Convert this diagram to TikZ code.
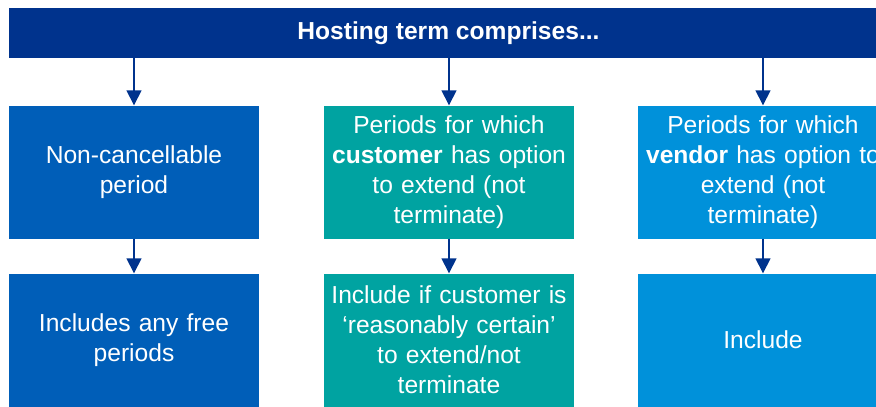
\documentclass[tikz,border=0pt]{standalone}
\usepackage{fontspec}
\setmainfont{Liberation Sans}
\usetikzlibrary{positioning,arrows.meta}

\definecolor{kdark}{HTML}{00338D}
\definecolor{kblue}{HTML}{005EB8}
\definecolor{kteal}{HTML}{00A3A1}
\definecolor{klight}{HTML}{0091DA}

\begin{document}
\begin{tikzpicture}[x=1pt,y=-1pt,
		box/.style={minimum width=250pt,minimum height=133pt,inner sep=0pt,text width=250pt,align=center,text=white,font=\fontsize{24.6}{30}\selectfont},
		bar/.style={fill=kdark,minimum width=879pt,minimum height=50pt,inner sep=0pt,text=white,font=\fontsize{24.6}{30}\selectfont\bfseries},
		every edge/.style={draw=kdark,line width=1.5pt,-{Triangle[length=15pt,width=15pt]}}]
			\useasboundingbox (0,0) rectangle (876,407);
			\begin{scope}
			\clip (0,0) rectangle (876,407);
			\node[bar] (T) at (448.5,33) {Hosting term comprises...};

			\node[box,fill=kblue] (A0) at (134,172) {Non-cancellable\\period};
			\node[box,fill=kteal] (A1) at (449,172) {Periods for which\\\textbf{customer} has option\\to extend (not\\terminate)};
			\node[box,fill=klight] (A2) at (763,172) {Periods for which\\\textbf{vendor} has option to\\extend (not\\terminate)};

			\node[box,fill=kblue] (B0) at (134,340) {Includes any free\\periods};
			\node[box,fill=kteal] (B1) at (449,340) {Include if customer is\\`reasonably certain'\\to extend/not\\terminate};
			\node[box,fill=klight] (B2) at (763,340) {Include};

			\path (T.south -| A0) edge (A0)
				  (T.south -| A1) edge (A1)
				  (T.south -| A2) edge (A2)
				  (A0) edge (B0)
				  (A1) edge (B1)
				  (A2) edge (B2);
			\end{scope}
		\end{tikzpicture}
\end{document}
